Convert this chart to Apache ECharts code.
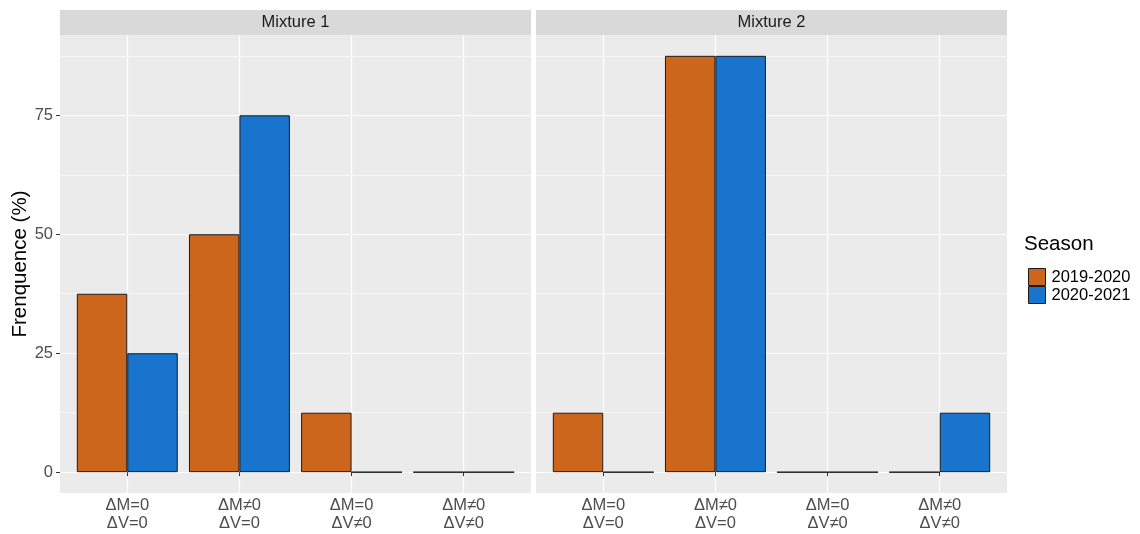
<!DOCTYPE html>
<html><head><meta charset="utf-8">
<script src="https://cdn.jsdelivr.net/npm/echarts@6/dist/echarts.min.js"></script>
<style>html,body{margin:0;padding:0;background:#fff}#c{width:1140px;height:534px}</style>
</head><body><div id="c"></div>
<script>
const categories = ['ΔM=0\nΔV=0', 'ΔM≠0\nΔV=0', 'ΔM=0\nΔV≠0', 'ΔM≠0\nΔV≠0'];
const panels = ['Mixture 1', 'Mixture 2'];
const seasons = ['2019-2020', '2020-2021'];
const mix1_2019 = [37.5, 50, 12.5, 0];
const mix1_2020 = [25, 75, 0, 0];
const mix2_2019 = [12.5, 87.5, 0, 0];
const mix2_2020 = [0, 87.5, 0, 12.5];
const yTicks = [0, 25, 50, 75];
const yMinor = [12.5, 37.5, 62.5, 87.5];
const colors = ['#CD661D', '#1874CD'];

const FONT = '"Liberation Sans", Arial, sans-serif';
const panelLefts = [60, 536];
const panelW = 471;
const gridTop = 35;
const gridBottom = 41;
const stripH = 25;
const xMin = 0.4, xMax = 4.6;
const yMin = -4.375, yMax = 91.875;
const barW = panelW / (xMax - xMin) * 0.45;
const xPos = categories.map((c, i) => i + 1);

const seriesData = [[mix1_2019, mix1_2020], [mix2_2019, mix2_2020]];

const grids = panelLefts.map(l => ({
  left: l, width: panelW, top: gridTop, bottom: gridBottom,
  show: true, backgroundColor: '#EBEBEB', borderWidth: 0
}));

const xAxes = panelLefts.map((l, gi) => ({
  type: 'value', gridIndex: gi, min: xMin, max: xMax,
  axisLine: { show: false },
  axisTick: { show: true, customValues: xPos, length: 4, lineStyle: { color: '#333333', width: 1 } },
  axisLabel: {
    customValues: xPos, color: '#4D4D4D', fontSize: 16.5, lineHeight: 18, margin: 3, fontFamily: FONT,
    formatter: v => categories[Math.round(v) - 1] || ''
  },
  splitLine: { show: true, lineStyle: { color: '#FFFFFF', width: 1.2 } }
}));

const yAxes = [];
panelLefts.forEach((l, gi) => {
  yAxes.push({
    type: 'value', gridIndex: gi, min: yMin, max: yMax,
    name: gi === 0 ? 'Frenquence (%)' : '', nameLocation: 'middle', nameGap: 28,
    nameTextStyle: { fontSize: 20.5, color: '#000000', fontFamily: FONT },
    axisLine: { show: false },
    axisTick: { show: gi === 0, customValues: yTicks, length: 4, lineStyle: { color: '#333333', width: 1 } },
    axisLabel: { show: gi === 0, customValues: yTicks, color: '#4D4D4D', fontSize: 16.5, margin: 7, fontFamily: FONT },
    splitLine: { show: true, lineStyle: { color: '#FFFFFF', width: 1.2 } }
  });
  yAxes.push({
    type: 'value', gridIndex: gi, min: yMin, max: yMax, position: 'left',
    axisLine: { show: false },
    axisTick: { show: false, customValues: yMinor },
    axisLabel: { show: false, customValues: yMinor },
    splitLine: { show: true, lineStyle: { color: '#FFFFFF', width: 0.6 } }
  });
});

const series = [];
seriesData.forEach((pair, gi) => {
  pair.forEach((vals, si) => {
    series.push({
      type: 'bar', name: seasons[si], xAxisIndex: gi, yAxisIndex: gi * 2,
      barWidth: barW, barGap: '0%',
      itemStyle: { color: colors[si], borderColor: '#1A1A1A', borderWidth: 1 },
      emphasis: { disabled: true },
      data: vals.map((v, i) => [xPos[i], v])
    });
  });
});

const graphics = [];
panelLefts.forEach((l, gi) => {
  graphics.push({ type: 'rect', left: l, top: gridTop - stripH, shape: { width: panelW, height: stripH }, style: { fill: '#D9D9D9' } });
  graphics.push({ type: 'text', x: l + panelW / 2, y: gridTop - stripH / 2, style: { text: panels[gi], fill: '#1A1A1A', fontSize: 16.5, fontFamily: FONT, align: 'center', verticalAlign: 'middle' } });
});
graphics.push({ type: 'text', x: 1024, y: 244, style: { text: 'Season', fill: '#000000', fontSize: 20.5, fontFamily: FONT, align: 'left', verticalAlign: 'middle' } });

const option = {
  animation: false,
  backgroundColor: '#FFFFFF',
  grid: grids, xAxis: xAxes, yAxis: yAxes, series: series,
  legend: {
    data: seasons, orient: 'vertical', left: 1023, top: 263,
    itemWidth: 17, itemHeight: 17, itemGap: 0, icon: 'rect',
    itemStyle: { borderWidth: 1, borderColor: '#1A1A1A' },
    textStyle: { fontSize: 16.5, color: '#000000', fontFamily: FONT, padding: [0, 0, 0, 1] },
    selectedMode: false
  },
  graphic: graphics
};
const chart = echarts.init(document.getElementById('c'), null, { renderer: 'canvas' });
chart.setOption(option);
</script></body></html>
